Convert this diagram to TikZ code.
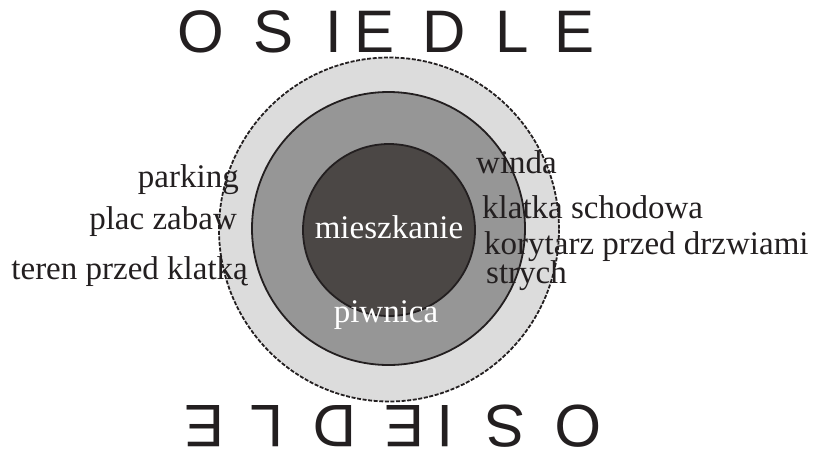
\documentclass[tikz,border=0pt]{standalone}
\usepackage{fontspec}
\setmainfont{Liberation Serif}
\newfontfamily\arialfont{Liberation Sans}
\definecolor{ink}{HTML}{231F20}
\definecolor{zoneA}{HTML}{DCDCDC}
\definecolor{zoneB}{HTML}{969696}
\definecolor{zoneC}{HTML}{4B4745}
\tikzset{
  lbl/.style={inner sep=0pt, text=ink, font=\fontsize{33}{33}\selectfont},
  wlbl/.style={inner sep=0pt, text=white, font=\fontsize{33}{33}\selectfont},
  bigletter/.style={inner sep=0pt, anchor=base, text=ink, font=\arialfont\fontsize{60}{60}\selectfont},
  ringline/.style={draw=ink, line width=1.8pt},
  outerline/.style={draw=ink, line width=1.8pt, dash pattern=on 4pt off 1.6pt}
}
\begin{document}
\begin{tikzpicture}[x=1pt,y=-1pt]
\useasboundingbox (0,0) rectangle (813,453);
% zones
\path[fill=zoneA, outerline] (389,229.5) ellipse [x radius=170, y radius=172];
\path[fill=zoneB, ringline] (388.5,228.5) circle [radius=136.5];
\path[fill=zoneC, ringline] (389,230) circle [radius=86];
\coordinate (ctr) at (389.5,228.5);
% top word
\foreach \l/\x [count=\i] in {O/201,S/274,I/333.5,E/374.5,D/444,L/512,E/575}{
  \node[bigletter] (top\i) at (\x,52) {\l};
}
% bottom word: same, rotated by 180 degrees
\begin{scope}[rotate around={180:(ctr)}, transform shape]
\foreach \l/\x [count=\i] in {O/201,S/274,I/333.5,E/374.5,D/444,L/512,E/575}{
  \node[bigletter] (bot\i) at (\x,52) {\l};
}
\end{scope}
% left labels
\node[lbl, anchor=base east] (parking) at (239,187) {parking};
\node[lbl, anchor=base east] (plac) at (237,229) {plac zabaw};
\node[lbl, anchor=base east] (teren) at (248,279) {teren przed klatką};
% right labels
\node[lbl, anchor=base west] (winda) at (476,173) {winda};
\node[lbl, anchor=base west] (klatka) at (482,218) {klatka schodowa};
\node[lbl, anchor=base west] (korytarz) at (484,254) {korytarz przed drzwiami};
\node[lbl, anchor=base west] (strych) at (486,283) {strych};
% inner labels
\node[wlbl, anchor=base] (mieszkanie) at (389,238) {mieszkanie};
\node[wlbl, anchor=base] (piwnica) at (386,322) {piwnica};
\end{tikzpicture}
\end{document}
